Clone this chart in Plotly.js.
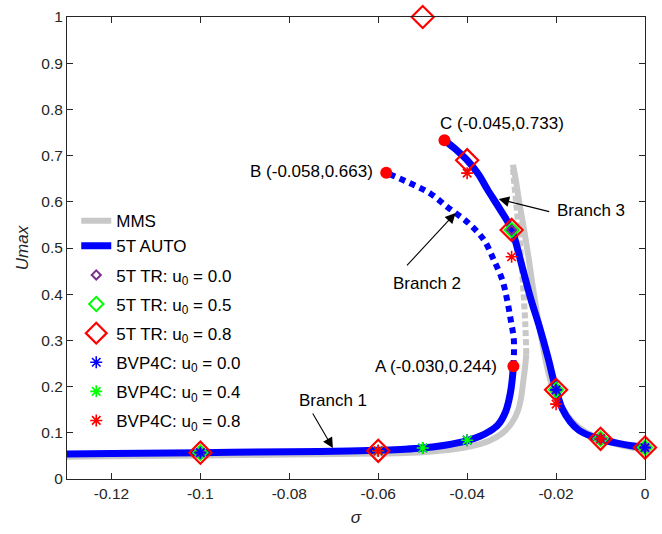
<!DOCTYPE html>
<html>
<head>
<meta charset="utf-8">
<script src="https://cdn.plot.ly/plotly-3.0.1.min.js"></script>
<style>html,body{margin:0;padding:0;background:#fff;}#chart{width:662px;height:534px;}</style>
</head>
<body>
<div id="chart"></div>
<script>
// ---- MMS (gray) ----
const mmsLowX = [-0.13, -0.12, -0.10, -0.08, -0.06, -0.05, -0.045, -0.04, -0.035, -0.032, -0.030, -0.0285, -0.0278, -0.0274, -0.0270, -0.0267];
const mmsLowY = [0.048, 0.049, 0.051, 0.053, 0.055, 0.058, 0.062, 0.069, 0.083, 0.100, 0.121, 0.150, 0.180, 0.210, 0.240, 0.270];
const mmsMidX = [-0.0267, -0.0269, -0.0273, -0.0278, -0.0284, -0.0291, -0.0296, -0.0297];
const mmsMidY = [0.270, 0.330, 0.400, 0.470, 0.540, 0.610, 0.660, 0.680];
const mmsUpX = [-0.0297, -0.0291, -0.0283, -0.0272, -0.0262, -0.0253, -0.0243, -0.0232, -0.0222, -0.0210, -0.0195, -0.0175, -0.015, -0.012, -0.008, -0.004, 0];
const mmsUpY = [0.680, 0.650, 0.600, 0.540, 0.480, 0.420, 0.360, 0.300, 0.250, 0.205, 0.170, 0.138, 0.113, 0.095, 0.080, 0.070, 0.063];

// ---- 5T AUTO (blue) ----
const br1X = [-0.13, -0.12, -0.10, -0.08, -0.07, -0.06, -0.055, -0.05, -0.045, -0.04, -0.037, -0.035, -0.033, -0.0313, -0.0303, -0.0299, -0.0296];
const br1Y = [0.054, 0.055, 0.057, 0.059, 0.060, 0.062, 0.064, 0.067, 0.073, 0.083, 0.093, 0.103, 0.118, 0.147, 0.185, 0.212, 0.244];
const br2X = [-0.0296, -0.0295, -0.0302, -0.0310, -0.0321, -0.0340, -0.0362, -0.0396, -0.0445, -0.0483, -0.0528, -0.0582];
const br2Y = [0.244, 0.301, 0.344, 0.387, 0.431, 0.474, 0.517, 0.553, 0.589, 0.618, 0.640, 0.663];
const br3X = [-0.0451, -0.0425, -0.040, -0.0375, -0.0354, -0.0325, -0.030, -0.0277, -0.0257, -0.0237, -0.0218, -0.0202, -0.0186, -0.0168, -0.0148, -0.012, -0.0098, -0.006, -0.003, 0];
const br3Y = [0.733, 0.713, 0.690, 0.660, 0.626, 0.582, 0.540, 0.462, 0.390, 0.328, 0.262, 0.200, 0.152, 0.124, 0.105, 0.092, 0.085, 0.077, 0.072, 0.068];

// ---- critical points ----
const ptX = [-0.0296, -0.0582, -0.0451];
const ptY = [0.244, 0.663, 0.733];
const ptLabels = ['A (-0.030,0.244)', 'B (-0.058,0.663)', 'C (-0.045,0.733)'];

// ---- 5T TR markers ----
const tr00X = [-0.1, -0.03, -0.02, -0.01, 0];
const tr00Y = [0.057, 0.539, 0.193, 0.087, 0.068];
const tr05X = [-0.1, -0.03, -0.02, -0.01, 0];
const tr05Y = [0.057, 0.539, 0.193, 0.087, 0.068];
const tr08X = [-0.1, -0.06, -0.05, -0.04, -0.03, -0.02, -0.01, 0];
const tr08Y = [0.057, 0.061, 1.0, 0.690, 0.539, 0.193, 0.087, 0.068];

// ---- BVP4C markers ----
const bv00X = [-0.1, -0.06, -0.05, -0.04, -0.02, -0.01, 0];
const bv00Y = [0.057, 0.061, 0.067, 0.084, 0.193, 0.087, 0.068];
const bv04X = [-0.06, -0.05, -0.04];
const bv04Y = [0.061, 0.067, 0.084];
const bv08X = [-0.06, -0.04, -0.03, -0.02, -0.01];
const bv08Y = [0.061, 0.662, 0.481, 0.162, 0.087];

// ---- axis ticks ----
const xTicks = [-0.12, -0.1, -0.08, -0.06, -0.04, -0.02, 0];
const xTickText = ['-0.12', '-0.1', '-0.08', '-0.06', '-0.04', '-0.02', '0'];
const yTicks = [0, 0.1, 0.2, 0.3, 0.4, 0.5, 0.6, 0.7, 0.8, 0.9, 1];
const yTickText = ['0', '0.1', '0.2', '0.3', '0.4', '0.5', '0.6', '0.7', '0.8', '0.9', '1'];

const GRAY = '#c8c8c8', BLUE = '#0000ff', RED = '#ff0000', LIME = '#00ff00', PURPLE = '#7e2f8e';
const FONT = 'Arial, "Liberation Sans", Helvetica, sans-serif';

const traces = [
  {x: mmsLowX.concat([null], mmsUpX), y: mmsLowY.concat([null], mmsUpY), mode: 'lines', name: 'MMS',
   line: {color: GRAY, width: 6, shape: 'spline', smoothing: 1}, connectgaps: false, legendgroup: 'g1', legendrank: 1},
  {x: mmsMidX, y: mmsMidY, mode: 'lines', showlegend: false, line: {color: GRAY, width: 6, dash: '6px,3px', shape: 'spline', smoothing: 1}},
  {x: br1X.concat([null], br3X), y: br1Y.concat([null], br3Y), mode: 'lines', name: '5T AUTO',
   line: {color: BLUE, width: 7, shape: 'spline', smoothing: 1}, connectgaps: false, legendgroup: 'g1', legendrank: 2},
  {x: br2X, y: br2Y, mode: 'lines', showlegend: false, line: {color: BLUE, width: 6, dash: '6px,5px', shape: 'spline', smoothing: 1}},
  {x: tr08X, y: tr08Y, mode: 'markers', name: '5T TR: u<sub>0</sub> = 0.8', legendgroup: 'g4', legendrank: 5,
   marker: {symbol: 'diamond-open', size: 17, color: RED, line: {width: 2.2, color: RED}}, cliponaxis: false},
  {x: tr05X, y: tr05Y, mode: 'markers', name: '5T TR: u<sub>0</sub> = 0.5', legendgroup: 'g3', legendrank: 4,
   marker: {symbol: 'diamond-open', size: 11, color: LIME, line: {width: 2, color: LIME}}, cliponaxis: false},
  {x: tr00X, y: tr00Y, mode: 'markers', name: '5T TR: u<sub>0</sub> = 0.0', legendgroup: 'g2', legendrank: 3,
   marker: {symbol: 'diamond-open', size: 7, color: PURPLE, line: {width: 2, color: PURPLE}}, cliponaxis: false},
  {x: bv00X, y: bv00Y, mode: 'markers', name: 'BVP4C: u<sub>0</sub> = 0.0', legendgroup: 'g5', legendrank: 6,
   marker: {symbol: 'asterisk-open', size: 10, color: BLUE, line: {width: 1.6, color: BLUE}}, cliponaxis: false},
  {x: bv04X, y: bv04Y, mode: 'markers', name: 'BVP4C: u<sub>0</sub> = 0.4', legendgroup: 'g6', legendrank: 7,
   marker: {symbol: 'asterisk-open', size: 10, color: LIME, line: {width: 1.6, color: LIME}}, cliponaxis: false},
  {x: bv08X, y: bv08Y, mode: 'markers', name: 'BVP4C: u<sub>0</sub> = 0.8', legendgroup: 'g7', legendrank: 8,
   marker: {symbol: 'asterisk-open', size: 10, color: RED, line: {width: 1.6, color: RED}}, cliponaxis: false},
  {x: ptX, y: ptY, mode: 'markers', showlegend: false, marker: {symbol: 'circle', size: 12, color: RED}, cliponaxis: false}
];

const txt = (x, y, t) => ({x: x, y: y, xref: 'x', yref: 'y', text: t, showarrow: false,
  xanchor: 'center', yanchor: 'middle', font: {family: FONT, size: 17, color: '#000'}});
const arr = (x, y, ax, ay) => ({x: x, y: y, xref: 'x', yref: 'y', text: '', showarrow: true,
  ax: ax, ay: ay, arrowhead: 2, arrowsize: 1.9, arrowwidth: 1.1, arrowcolor: '#000', standoff: 0, startstandoff: 0});

const annotations = [
  txt(-0.0470, 0.243, ptLabels[0]),
  txt(-0.0751, 0.665, ptLabels[1]),
  txt(-0.0321, 0.770, ptLabels[2]),
  txt(-0.0702, 0.171, 'Branch 1'),
  txt(-0.0490, 0.424, 'Branch 2'),
  txt(-0.0121, 0.582, 'Branch 3'),
  arr(-0.0702, 0.067, -21, -36),
  arr(-0.0426, 0.576, -50, 54),
  arr(-0.0329, 0.606, 52, 13)
];

const axisCommon = {showgrid: false, zeroline: false, showline: true, linecolor: '#262626', linewidth: 1,
  mirror: 'ticks', ticks: 'inside', ticklen: 6, tickwidth: 1, tickcolor: '#262626',
  tickfont: {family: FONT, size: 15.5, color: '#262626'}};

const layout = {
  width: 662, height: 534,
  margin: {l: 67, r: 17, t: 17, b: 55},
  paper_bgcolor: '#fff', plot_bgcolor: '#fff',
  font: {family: FONT, color: '#262626'},
  xaxis: Object.assign({}, axisCommon, {range: [-0.13, 0], tickvals: xTicks, ticktext: xTickText,
    title: {text: '<i>σ</i>', font: {family: FONT, size: 17, color: '#262626'}, standoff: 10}}),
  yaxis: Object.assign({}, axisCommon, {range: [0, 1], tickvals: yTicks, ticktext: yTickText,
    title: {text: '<i>Umax</i>', font: {family: FONT, size: 17, color: '#262626'}, standoff: 8}}),
  showlegend: true,
  legend: {x: 0.016, y: 0.597, xanchor: 'left', yanchor: 'top', bgcolor: 'rgba(255,255,255,0)',
    borderwidth: 0, font: {family: FONT, size: 17, color: '#000'}, traceorder: 'grouped', tracegroupgap: 4},
  annotations: annotations
};

Plotly.newPlot('chart', traces, layout, {displayModeBar: false, staticPlot: true});
</script>
</body>
</html>
